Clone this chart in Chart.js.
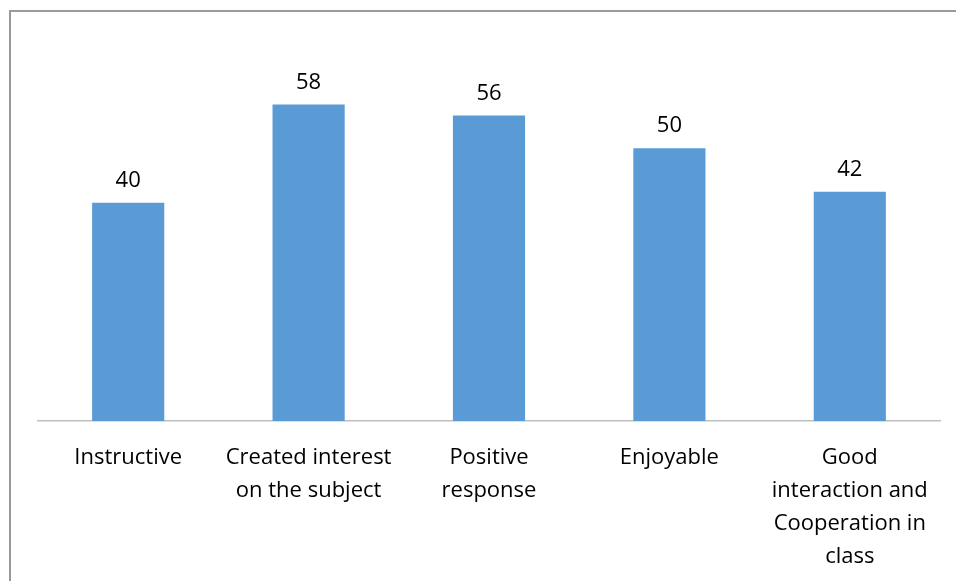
<!DOCTYPE html>
<html>
<head>
<meta charset="utf-8">
<script src="https://cdn.jsdelivr.net/npm/chart.js@4/dist/chart.umd.min.js"></script>
<style>
  html, body { margin: 0; padding: 0; background: #fff; overflow: hidden; }
  #frame { position: absolute; left: 9px; top: 10px; width: 960px; height: 600px;
           border-left: 2px solid #9a9a9a; border-top: 2px solid #9a9a9a; }
  #wrap { position: absolute; left: 0; top: 0; width: 956px; height: 581px; }
</style>
</head>
<body>
<div id="frame"></div>
<div id="wrap"><canvas id="myChart" width="956" height="581"></canvas></div>
<script>
const categories = [
  "Instructive",
  ["Created interest", "on the subject"],
  ["Positive", "response"],
  "Enjoyable",
  ["Good", "interaction and", "Cooperation in", "class"]
];
const values = [40, 58, 56, 50, 42];

// draw the value above each bar
const valueLabels = {
  id: 'valueLabels',
  afterDatasetsDraw(chart) {
    const ctx = chart.ctx;
    ctx.save();
    ctx.font = '22px "Open Sans"';
    ctx.fillStyle = '#000';
    ctx.textAlign = 'center';
    ctx.textBaseline = 'bottom';
    chart.getDatasetMeta(0).data.forEach((bar, i) => {
      ctx.fillText(values[i], bar.x, bar.y - 11);
    });
    ctx.restore();
  }
};

const myChartRef = document.getElementById("myChart").getContext("2d");
new Chart(myChartRef, {
  type: "bar",
  data: {
    labels: categories,
    datasets: [{
      data: values,
      backgroundColor: "#5B9BD5",
      categoryPercentage: 1,
      barPercentage: 0.4
    }]
  },
  options: {
    responsive: false,
    animation: false,
    layout: { padding: { left: 38, right: 16, top: 39, bottom: 0 } },
    plugins: { legend: { display: false }, tooltip: { enabled: false } },
    scales: {
      x: {
        grid: { display: false },
        border: { display: true, color: "#bfbfbf", width: 1.5 },
        ticks: {
          color: "#000",
          font: { family: "Open Sans", size: 22, lineHeight: 1.5 },
          padding: 12,
          maxRotation: 0,
          autoSkip: false
        },
        afterFit(scale) { scale.height = 160; }
      },
      y: {
        display: false,
        min: 0,
        max: 70
      }
    }
  },
  plugins: [valueLabels]
});
</script>
</body>
</html>
